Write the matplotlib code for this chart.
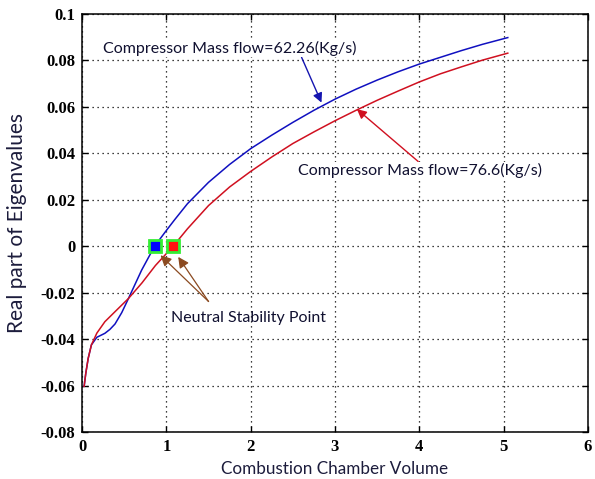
import matplotlib
matplotlib.use("Agg")
import matplotlib.pyplot as plt

# Data
blue_x = [0.024, 0.044, 0.072, 0.11, 0.175, 0.27, 0.33, 0.39, 0.47, 0.55, 0.706, 0.86, 1.0, 1.1, 1.25, 1.5,
          1.75, 2.0, 2.25, 2.5, 2.75, 3.0, 3.25, 3.5, 3.75, 4.0, 4.25, 4.5, 4.75, 5.05]
blue_y = [-0.0603, -0.0546, -0.0483, -0.0425, -0.0392, -0.0375, -0.0358, -0.0335, -0.0286, -0.0225, -0.0103,
          0.0, 0.0068, 0.0115, 0.0183, 0.0275, 0.0352, 0.042, 0.0478, 0.0533, 0.0585, 0.0633, 0.0676, 0.0715,
          0.0751, 0.0784, 0.0813, 0.0842, 0.0869, 0.0898]
red_x = [0.024, 0.044, 0.072, 0.11, 0.175, 0.27, 0.39, 0.55, 0.71, 0.87, 1.08, 1.25, 1.5, 1.75,
         2.0, 2.25, 2.5, 2.75, 3.0, 3.25, 3.5, 3.75, 4.0, 4.25, 4.5, 4.75, 5.05]
red_y = [-0.0603, -0.0546, -0.0483, -0.0425, -0.0374, -0.0325, -0.0282, -0.0225, -0.0158, -0.0083, 0.0,
         0.0075, 0.0175, 0.0255, 0.0322, 0.0384, 0.0442, 0.0492, 0.054, 0.0585, 0.0628, 0.0668, 0.0707, 0.0742,
         0.0772, 0.0801, 0.0831]
neutral_x = [0.86, 1.08]
neutral_y = [0.0, 0.0]
xticks = [0, 1, 2, 3, 4, 5, 6]
yticks = [-0.08, -0.06, -0.04, -0.02, 0, 0.02, 0.04, 0.06, 0.08, 0.1]
ytick_labels = ["-0.08", "-0.06", "-0.04", "-0.02", "0", "0.02", "0.04", "0.06", "0.08", "0.1"]

fig = plt.figure(figsize=(5.95, 4.79), dpi=100)
ax = fig.add_axes([0.138, 0.098, 0.850, 0.873])

ax.plot(blue_x, blue_y, color="#1010c0", lw=1.1)
ax.plot(red_x, red_y, color="#d01020", lw=1.1)
ax.plot(neutral_x[0], neutral_y[0], "s", ms=8, mfc="#0000ff", mec="#33ee33", mew=2)
ax.plot(neutral_x[1], neutral_y[1], "s", ms=8, mfc="#ff1010", mec="#33ee33", mew=2)

ax.set_xlim(0, 6)
ax.set_ylim(-0.08, 0.1)
ax.set_xticks(xticks)
ax.set_yticks(yticks)
ax.set_yticklabels(ytick_labels)
ax.grid(True, color="black", linestyle=(0, (1, 3)), linewidth=0.9)
ax.tick_params(direction="in", top=True, right=True, length=4, width=1, pad=5)
for lab in ax.get_xticklabels() + ax.get_yticklabels():
    lab.set_fontfamily("Liberation Serif")
    lab.set_fontweight("bold")
    lab.set_fontsize(12)
for s in ax.spines.values():
    s.set_linewidth(1.1)

lab_col = "#1c1c3c"
ax.set_xlabel("Combustion Chamber Volume", fontsize=12.3, family="Lato", color=lab_col, labelpad=4)
ax.set_ylabel("Real part of Eigenvalues", fontsize=15, family="Lato", color=lab_col, labelpad=10)

txt_col = "#101030"
ax.annotate("Compressor Mass flow=62.26(Kg/s)", xy=(2.84, 0.0618), xytext=(0.25, 0.0852),
            fontsize=11.5, family="Lato", color=txt_col, va="center", ha="left",
            arrowprops=dict(arrowstyle="-|>", color="#1515b0", lw=1, mutation_scale=14,
                            shrinkA=0, shrinkB=0, relpos=(0.78, 0.0)),
            bbox=dict(fc="white", ec="none", pad=1))
ax.annotate("Compressor Mass flow=76.6(Kg/s)", xy=(3.26, 0.059), xytext=(2.56, 0.0326),
            fontsize=11.5, family="Lato", color=txt_col, va="center", ha="left",
            arrowprops=dict(arrowstyle="-|>", color="#d01020", lw=1, mutation_scale=14,
                            shrinkA=0, shrinkB=0, relpos=(0.5, 1.0)),
            bbox=dict(fc="white", ec="none", pad=1))
ax.text(1.06, -0.031, "Neutral Stability Point", fontsize=11.5, family="Lato", color=txt_col,
        va="center", ha="left")
brown = "#8b4a20"
for tip in [(0.93, -0.0039), (1.14, -0.0046)]:
    ax.annotate("", xy=tip, xytext=(1.5, -0.0238),
                arrowprops=dict(arrowstyle="-|>", color=brown, lw=0.9, mutation_scale=16,
                                shrinkA=0, shrinkB=0))

fig.savefig("out.png", dpi=100)
